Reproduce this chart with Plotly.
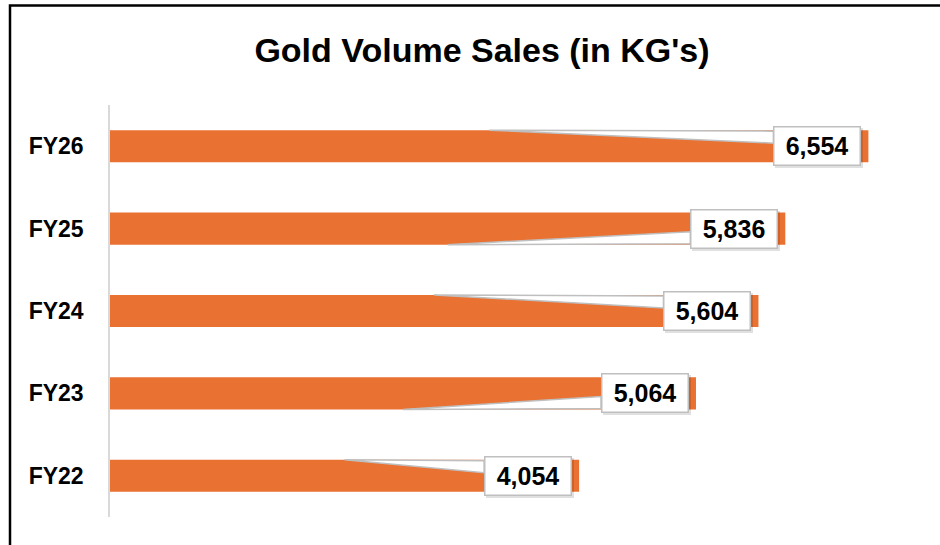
import plotly.graph_objects as go

# data
years = ["FY22", "FY23", "FY24", "FY25", "FY26"]
volume_kg = [4054, 5064, 5604, 5836, 6554]
callout_side = ["top", "bottom", "top", "bottom", "top"]

W, H = 940, 545
ML, MR, MT, MB = 110, 20, 105, 28
XMAX = 7000
BAR_W = 0.39
ORANGE = "#E97132"
FONT = "Liberation Sans"

plot_w = W - ML - MR
plot_h = H - MT - MB
ppu = plot_w / XMAX            # px per kg
ppc = plot_h / len(years)      # px per category

fig = go.Figure()
fig.add_trace(go.Bar(
    x=volume_kg, y=years, orientation="h",
    marker=dict(color=ORANGE, line=dict(width=0)),
    width=BAR_W, hoverinfo="skip",
))

shapes = []
annotations = []
box_gap, box_w, box_h = 7, 85, 37
for i, (yr, v, side) in enumerate(zip(years, volume_kg, callout_side)):
    sgn = 1 if side == "top" else -1
    edge = i + sgn * BAR_W / 2
    bx = v - (box_gap + box_w + 3) / ppu
    p1 = edge - sgn * 1 / ppc
    p2 = edge - sgn * 13 / ppc
    shapes.append(dict(
        type="path", xref="x", yref="y", layer="above",
        path=f"M {v/2},{edge} L {bx},{p1} L {bx},{p2} Z",
        fillcolor="white", line=dict(color="#BFBFBF", width=1.5),
    ))
    # faint drop shadow behind the label box
    annotations.append(dict(
        x=v, y=yr, xref="x", yref="y", xanchor="right", yanchor="middle",
        xshift=-box_gap + 2, yshift=-2, showarrow=False, text="",
        bgcolor="rgba(0,0,0,0.12)", borderwidth=0, borderpad=0,
        width=box_w + 3, height=box_h + 3,
    ))
    annotations.append(dict(
        x=v, y=yr, xref="x", yref="y", xanchor="right", yanchor="middle",
        xshift=-box_gap, showarrow=False, text=f"{v:,}",
        font=dict(family=FONT, size=25, color="black", weight="bold"),
        bgcolor="white", bordercolor="#BFBFBF", borderwidth=1.5, borderpad=0,
        width=box_w, height=box_h, align="center", valign="middle",
    ))

# outer chart border (runs off the right and bottom of the window)
shapes.append(dict(
    type="rect", xref="paper", yref="paper", layer="above",
    x0=(10 - ML) / plot_w, x1=(W + 10 - ML) / plot_w,
    y0=-(MB + 10) / plot_h, y1=(H - MB - 5.5) / plot_h,
    line=dict(color="black", width=2.5), fillcolor="rgba(0,0,0,0)",
))

fig.update_layout(
    width=W, height=H,
    margin=dict(l=ML, r=MR, t=MT, b=MB),
    paper_bgcolor="white", plot_bgcolor="white",
    showlegend=False,
    title=dict(
        text="Gold Volume Sales (in KG's)",
        x=482 / W, xanchor="center", y=1 - 50 / H, yanchor="middle",
        xref="container", yref="container",
        font=dict(family=FONT, size=34, color="black", weight="bold"),
    ),
    xaxis=dict(range=[0, XMAX], visible=False, fixedrange=True),
    yaxis=dict(
        categoryorder="array", categoryarray=years, range=[-0.5, len(years) - 0.5],
        showline=True, linecolor="#D9D9D9", linewidth=1.5,
        showgrid=False, zeroline=False, ticks="",
        ticklabelstandoff=20, fixedrange=True,
        tickfont=dict(family=FONT, size=23, color="black", weight="bold"),
    ),
    shapes=shapes,
    annotations=annotations,
)

fig.write_html("out.html", config={"displayModeBar": False},
               post_script="document.body.style.margin='0';")
